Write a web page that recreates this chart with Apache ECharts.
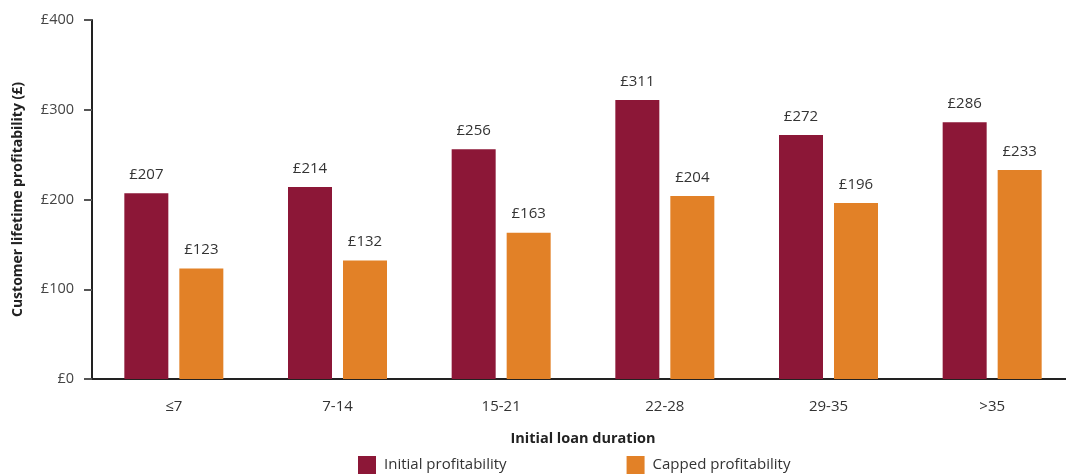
<!DOCTYPE html>
<html>
<head>
<meta charset="utf-8">
<script src="https://cdn.jsdelivr.net/npm/echarts@6/dist/echarts.min.js"></script>
<style>
  html, body { margin: 0; padding: 0; background: #fff; overflow: hidden; }
  /* the plot runs slightly past the right edge of the window */
  #chart { width: 1074px; height: 476px; }
</style>
</head>
<body>
<div id="chart"></div>
<script>
// Loan duration buckets (days) and profitability per customer (£)
const categories = ['≤7', '7-14', '15-21', '22-28', '29-35', '>35'];
const initialProfitability = [207, 214, 256, 311, 272, 286];
const cappedProfitability = [123, 132, 163, 204, 196, 233];
const yTicks = { min: 0, max: 400, interval: 100 };

const FONT = '"Open Sans", "Noto Sans", sans-serif';
const MAROON = '#8C1737';
const ORANGE = '#E28127';

const chart = echarts.init(document.getElementById('chart'), null, { renderer: 'canvas' });

const valueLabel = {
  show: true,
  position: 'top',
  distance: 11,
  formatter: p => '£' + p.value,
  color: '#333',
  fontFamily: FONT,
  fontSize: 15
};

chart.setOption({
  animation: false,
  textStyle: { fontFamily: FONT },
  grid: { left: 92, top: 20, bottom: 97, right: 0, containLabel: false },
  legend: {
    left: 353,
    top: 451,
    itemWidth: 18,
    itemHeight: 18,
    itemGap: 120,
    icon: 'rect',
    textStyle: { fontFamily: FONT, fontSize: 15, color: '#333', padding: [3, 0, 0, 3] },
    data: ['Initial profitability', 'Capped profitability']
  },
  xAxis: {
    type: 'category',
    data: categories,
    name: 'Initial loan duration',
    nameLocation: 'middle',
    nameGap: 52,
    nameTextStyle: { fontFamily: FONT, fontSize: 14.5, fontWeight: 'bold', color: '#222' },
    axisLine: { lineStyle: { color: '#222', width: 2 } },
    axisTick: { alignWithLabel: true, length: 12, lineStyle: { color: '#444', width: 2 } },
    axisLabel: { color: '#333', fontSize: 15, margin: 20, fontFamily: FONT }
  },
  yAxis: {
    type: 'value',
    min: yTicks.min,
    max: yTicks.max,
    interval: yTicks.interval,
    name: 'Customer lifetime profitability (£)',
    nameLocation: 'middle',
    nameGap: 67,
    nameTextStyle: { fontFamily: FONT, fontSize: 14, fontWeight: 'bold', color: '#222' },
    axisLine: { show: true, lineStyle: { color: '#222', width: 2 } },
    axisTick: { show: true, length: 8, lineStyle: { color: '#555', width: 2 } },
    axisLabel: { color: '#444', fontSize: 14.5, margin: 18, fontFamily: FONT, formatter: v => '£' + v },
    splitLine: { show: false }
  },
  series: [
    {
      name: 'Initial profitability',
      type: 'bar',
      data: initialProfitability,
      barWidth: 44,
      barGap: '25%',
      itemStyle: { color: MAROON },
      label: valueLabel
    },
    {
      name: 'Capped profitability',
      type: 'bar',
      data: cappedProfitability,
      barWidth: 44,
      barGap: '25%',
      itemStyle: { color: ORANGE },
      label: valueLabel
    }
  ]
});
</script>
</body>
</html>
